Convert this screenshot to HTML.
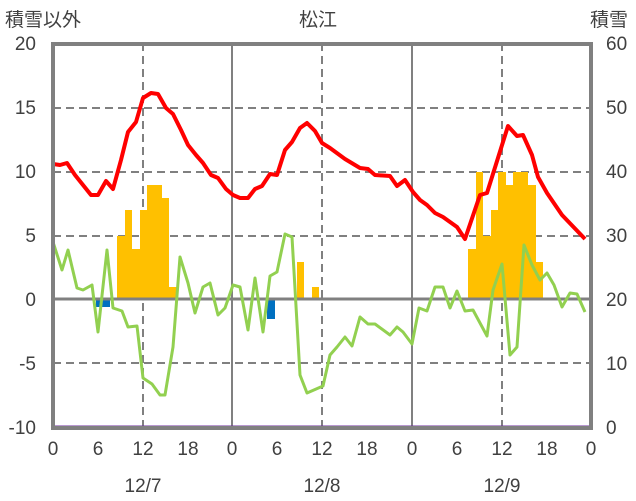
<!DOCTYPE html>
<html><head><meta charset="utf-8"><style>
html,body{margin:0;padding:0;background:#fff}
svg{display:block}
text{font-family:"Liberation Sans","Noto Sans CJK JP",sans-serif;fill:#404040;font-size:19px}
</style></head><body>
<svg width="636" height="501" viewBox="0 0 636 501">
<g stroke="#808080" stroke-width="2" stroke-dasharray="8,5">
<line x1="53" y1="108" x2="591" y2="108"/><line x1="53" y1="172" x2="591" y2="172"/>
<line x1="53" y1="236" x2="591" y2="236"/><line x1="53" y1="363" x2="591" y2="363"/>
<line x1="143" y1="43" x2="143" y2="427"/><line x1="322" y1="43" x2="322" y2="427"/><line x1="502" y1="43" x2="502" y2="427"/>
</g>
<g stroke="#808080" stroke-width="2"><line x1="232" y1="43" x2="232" y2="427"/><line x1="412" y1="43" x2="412" y2="427"/></g>
<g fill="#FFC000">
<rect x="117" y="236" width="8" height="63"/><rect x="125" y="210" width="7" height="89"/><rect x="132" y="249" width="8" height="50"/><rect x="140" y="210" width="7" height="89"/><rect x="147" y="185" width="15" height="114"/><rect x="162" y="198" width="7" height="101"/><rect x="169" y="287" width="8" height="12"/>
<rect x="297" y="262" width="7" height="37"/><rect x="312" y="287" width="7" height="12"/>
<rect x="468" y="249" width="8" height="50"/><rect x="476" y="172" width="7" height="127"/><rect x="483" y="236" width="8" height="63"/><rect x="491" y="210" width="7" height="89"/><rect x="498" y="172" width="8" height="127"/><rect x="506" y="185" width="7" height="114"/><rect x="513" y="172" width="15" height="127"/><rect x="528" y="185" width="8" height="114"/><rect x="536" y="262" width="7" height="37"/>
</g>
<g fill="#0070C0"><rect x="96" y="299" width="14" height="8"/><rect x="267" y="299" width="8" height="20"/></g>
<line x1="53" y1="299" x2="591" y2="299" stroke="#808080" stroke-width="3"/>
<polyline fill="none" stroke="#92D050" stroke-width="3" stroke-linejoin="round" points="53,242 62,270 68,250 77,288 83,290 92,285 98,332 107,250 113,308 122,311 128,327 137,326 143,378 152,384 160,395 165,395 173,347 180,257 188,283 195,313 203,287 210,283 218,315 225,308 233,285 240,287 248,330 255,278 263,332 270,276 277,272 285,234 292,237 300,375 307,393 323,386 330,355 337,347 345,337 352,346 360,317 368,324 375,324 390,335 397,327 403,332 412,344 419,308 427,311 435,287 443,287 450,308 457,291 465,311 473,310 487,336 493,290 502,264 510,355 517,347 524,245 532,265 540,280 547,273 554,285 562,307 570,293 577,294 585,312"/>
<polyline fill="none" stroke="#FF0000" stroke-width="4" stroke-linejoin="round" points="53,164 60,165 67,163 75,175 83,185 91,195 98,195 106,181 113,189 121,160 128,132 136,122 143,98 151,93 158,94 166,108 173,114 181,130 188,145 196,155 203,163 211,175 218,178 226,189 233,195 240,198 248,198 255,189 262,186 270,174 277,175 285,150 292,142 300,128 307,123 315,131 322,143 330,148 345,159 360,168 368,169 375,175 390,176 397,186 405,180 413,192 420,200 427,205 435,213 443,217 457,227 465,239 480,195 487,193 508,126 517,136 523,135 532,155 538,177 547,193 562,215 585,239"/>
<line x1="53" y1="427" x2="591" y2="427" stroke="#7030A0" stroke-width="3"/>
<rect x="53" y="44" width="538" height="384" fill="none" stroke="#808080" stroke-width="4"/>
<text x="5" y="26">積雪以外</text><text x="318" y="26" text-anchor="middle">松江</text><text x="590" y="26">積雪</text>
<g text-anchor="end"><text x="36" y="50">20</text><text x="36" y="114">15</text><text x="36" y="178">10</text><text x="36" y="242">5</text><text x="36" y="306">0</text><text x="36" y="370">-5</text><text x="36" y="434">-10</text></g>
<g><text x="606" y="50">60</text><text x="606" y="114">50</text><text x="606" y="178">40</text><text x="606" y="242">30</text><text x="606" y="306">20</text><text x="606" y="370">10</text><text x="606" y="434">0</text></g>
<g text-anchor="middle">
<text x="53" y="455">0</text><text x="98" y="455">6</text><text x="143" y="455">12</text><text x="188" y="455">18</text>
<text x="232" y="455">0</text><text x="277" y="455">6</text><text x="322" y="455">12</text><text x="367" y="455">18</text>
<text x="412" y="455">0</text><text x="457" y="455">6</text><text x="502" y="455">12</text><text x="547" y="455">18</text><text x="591" y="455">0</text>
<text x="143" y="492">12/7</text><text x="322" y="492">12/8</text><text x="502" y="492">12/9</text>
</g>
</svg>
</body></html>
